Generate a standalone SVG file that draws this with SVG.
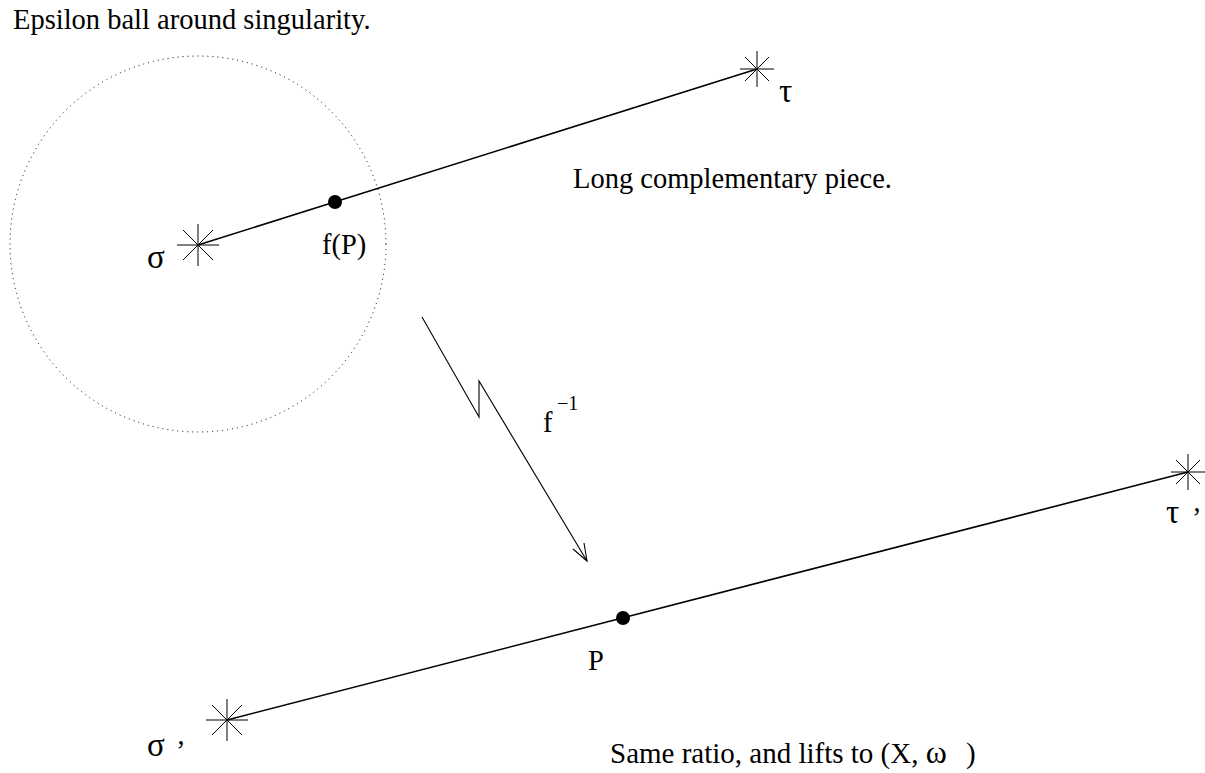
<svg xmlns="http://www.w3.org/2000/svg" width="1205" height="773" viewBox="0 0 1205 773">
<style>
text{font-family:"Liberation Serif","Times New Roman",serif;font-size:28.5px;fill:#000}
.gr{font-size:33px}
.seg{stroke:#000;stroke-width:1.6;fill:none}
.dot{fill:#000}
</style>
<defs>
<g id="starL" stroke="#000" stroke-width="1"><line x1="-21" y1="0" x2="21" y2="0"/><line x1="0" y1="-21" x2="0" y2="21"/><line x1="-15" y1="-15" x2="15" y2="15"/><line x1="-15" y1="15" x2="15" y2="-15"/></g>
<g id="starS" stroke="#000" stroke-width="1"><line x1="-17" y1="0" x2="17" y2="0"/><line x1="0" y1="-18" x2="0" y2="18"/><line x1="-12" y1="-12" x2="12" y2="12"/><line x1="-12" y1="12" x2="12" y2="-12"/></g>
</defs>
<rect width="1205" height="773" fill="#fff"/>
<g id="ball"><circle cx="198" cy="244" r="188" fill="none" stroke="#000" stroke-width="1" stroke-dasharray="1 4"/></g>
<g id="connectors">
<line class="seg" x1="198" y1="245" x2="757" y2="69"/>
<line class="seg" x1="227" y1="720" x2="1188" y2="472"/>
<polyline fill="none" stroke="#000" stroke-width="1.1" points="422,317 479,417 479,381 587,561"/>
<polyline fill="none" stroke="#000" stroke-width="1.1" points="573,549 587,561 584,543"/>
</g>
<g id="sigma"><use href="#starL" x="198" y="245"/><text class="gr" x="147" y="268">σ</text></g>
<g id="tau"><use href="#starS" x="757" y="69"/><text class="gr" x="779" y="102">τ</text></g>
<g id="fP"><circle class="dot" cx="335" cy="202" r="7"/><text x="322" y="254">f(P)</text></g>
<g id="sigmap"><use href="#starL" x="227" y="720"/><text class="gr" x="147" y="756">σ</text><text x="176" y="760">’</text></g>
<g id="taup"><use href="#starS" x="1188" y="472"/><text class="gr" x="1166" y="523">τ</text><text x="1192" y="527">’</text></g>
<g id="P"><circle class="dot" cx="623" cy="618" r="7"/><text x="588" y="670">P</text></g>
<g id="finv"><text x="543" y="432">f</text><text x="557" y="410" style="font-size:20px">−1</text></g>
<text x="13" y="29">Epsilon ball around singularity.</text>
<text x="573" y="188">Long complementary piece.</text>
<text x="610" y="763" style="font-size:29px">Same ratio, and lifts to (X, <tspan style="font-size:32px">ω</tspan></text>
<text x="966" y="763" style="font-size:29px">)</text>
</svg>
